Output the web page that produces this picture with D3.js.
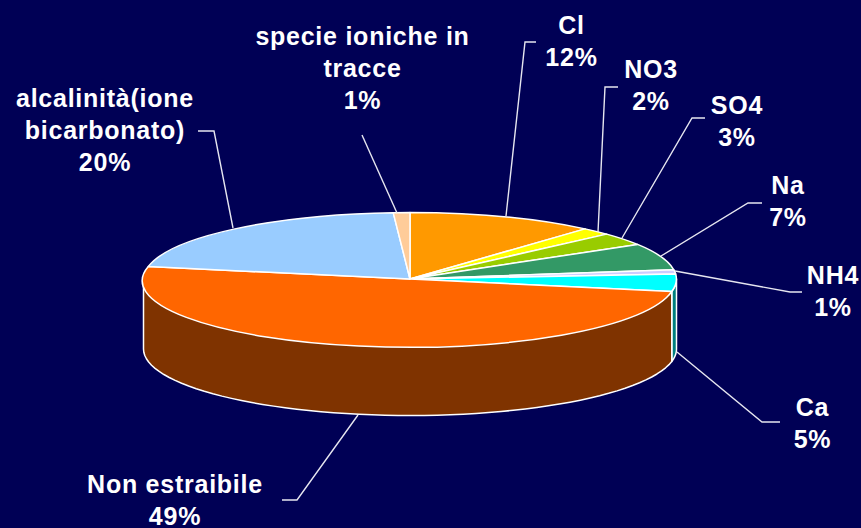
<!DOCTYPE html>
<html><head><meta charset="utf-8">
<script src="https://cdn.jsdelivr.net/npm/d3@7"></script>
<style>html,body{margin:0;padding:0;background:#000055}svg{display:block}</style>
</head><body><svg id="c" width="861" height="528"></svg>
<script>
// Printed labels
const categories = ["Cl","NO3","SO4","Na","NH4","Ca","Non estraibile","alcalinità(ione bicarbonato)","specie ioniche in tracce"];
const percentLabels = ["12%","2%","3%","7%","1%","5%","49%","20%","1%"];
const shares = [11.4,1.8,3.1,6.5,1.0,4.2,50.0,21.0,1.0];
const topColors = ["#ff9900","#ffff00","#99cc00","#339966","#ccccff","#00ffff","#ff6600","#99ccff","#ffcc99"];
const sideColors = ["#7f4c00","#7f7f00","#4c6600","#194c33","#66667f","#007f7f","#7f3300","#4c667f","#7f664c"];

// Label layout: text lines (centre x, first baseline y) and leader polyline
const labelLines = [["Cl","12%"],["NO3","2%"],["SO4","3%"],["Na","7%"],["NH4","1%"],["Ca","5%"],["Non estraibile","49%"],["alcalinità(ione","bicarbonato)","20%"],["specie ioniche in","tracce","1%"]];
const labelX = [571.5,651,737,788,833,812.5,175,105,362.5];
const labelY = [34,78,114,194,284,416,493,107,45];
const leaders = [
 [[506,216],[525,42],[536,42]],
 [[598,232],[605,87],[618,87]],
 [[622,238],[692,118],[705,118]],
 [[661,256],[748,203],[762,203]],
 [[675,271],[790,292],[802,292]],
 [[677,352],[762,422],[780,422]],
 [[358,415],[297,500],[282,500]],
 [[233,228],[214,131],[198,131]],
 [[397,213],[362,135]]
];

const cx=410, cy=279, rx=266.5, ry=66.5, depth=70;
const svg=d3.select("#c");
svg.append("rect").attr("width",861).attr("height",528).attr("fill","#000055");

const pieData=d3.pie().sort(null).value(d=>d)(shares);
const px=a=>cx+rx*Math.sin(a), py=a=>cy-ry*Math.cos(a);

// side walls: visible only on the front half (angle between PI/2 and 3PI/2)
const wallG=svg.append("g");
function wall(a0,a1){
  const steps=60, pts=[];
  for(let i=0;i<=steps;i++){const a=a0+(a1-a0)*i/steps;pts.push([px(a),py(a)]);}
  for(let i=steps;i>=0;i--){const a=a0+(a1-a0)*i/steps;pts.push([px(a),py(a)+depth]);}
  return d3.line()(pts)+"Z";
}
pieData.forEach((d,i)=>{
  const a0=Math.max(d.startAngle,Math.PI/2), a1=Math.min(d.endAngle,3*Math.PI/2);
  if(a1>a0) wallG.append("path").attr("d",wall(a0,a1)).attr("fill",sideColors[i]).attr("stroke","#fff").attr("stroke-width",1.5).attr("stroke-linejoin","round");
});
// top face
const arcGen=d3.arc().innerRadius(0).outerRadius(1);
const topG=svg.append("g").attr("transform",`translate(${cx},${cy}) scale(${rx},${ry})`);
topG.selectAll("path").data(pieData).join("path").attr("d",arcGen)
  .attr("fill",(d,i)=>topColors[i]).attr("stroke","#fff").attr("stroke-width",1.5)
  .attr("vector-effect","non-scaling-stroke").attr("stroke-linejoin","round");

// leaders
svg.append("g").selectAll("path").data(leaders).join("path").attr("d",d3.line())
  .attr("fill","none").attr("stroke","#e6e6f0").attr("stroke-width",1.4);

// labels
const labelG=svg.append("g").attr("font-family","'Liberation Sans',Arial,sans-serif").attr("font-weight","bold")
  .attr("font-size",25).attr("letter-spacing",0.75).attr("fill","#fff").attr("text-anchor","middle");
labelLines.forEach((ls,i)=>{
  ls.forEach((s,j)=>labelG.append("text").attr("x",labelX[i]).attr("y",labelY[i]+j*32).text(s));
});
</script></body></html>
